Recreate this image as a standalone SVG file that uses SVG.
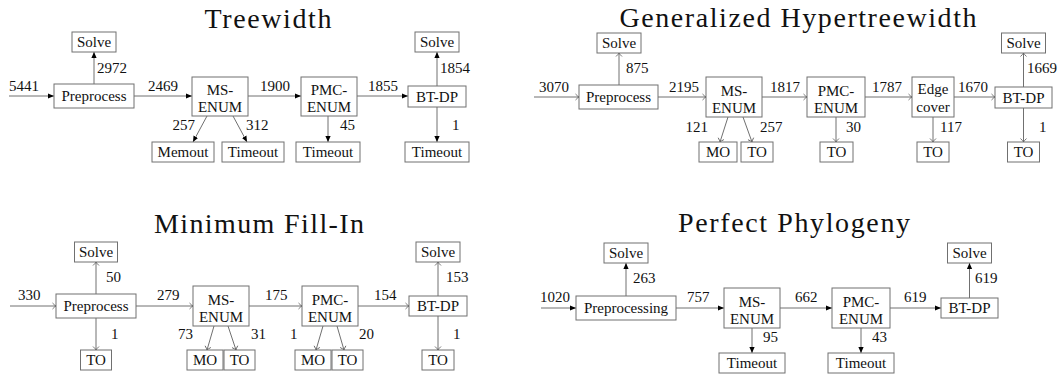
<svg xmlns="http://www.w3.org/2000/svg" width="1058" height="374" viewBox="0 0 1058 374" font-family="Liberation Serif, DejaVu Serif, serif">
<style>
.box{fill:#fff;stroke:#707070;stroke-width:1}
.t{font-size:15px;fill:#111;text-anchor:middle}
.n{font-size:15px;fill:#111;text-anchor:start}
.ne{text-anchor:end}
.title{font-size:28px;fill:#111;text-anchor:middle}
.c{stroke:#707070;stroke-width:1;fill:none}
.f{marker-end:url(#fill)}
.o{marker-end:url(#open)}
</style>
<defs>
<marker id="fill" viewBox="0 -3 6 6" refX="6" refY="0" markerWidth="6" markerHeight="6" markerUnits="userSpaceOnUse" orient="auto">
<path d="M0,-2.6 L6,0 L0,2.6 z" fill="#000"/>
</marker>
<marker id="open" viewBox="-5 -4 6 8" refX="0" refY="0" markerWidth="6" markerHeight="8" markerUnits="userSpaceOnUse" orient="auto">
<path d="M-3.5,-3 Q-1.2,-0.6 0,0 Q-1.2,0.6 -3.5,3" fill="none" stroke="#555" stroke-width="0.8"/>
</marker>
</defs>

<!-- ===== Treewidth ===== -->
<text class="title" x="268" y="28" textLength="127">Treewidth</text>
<g id="tw-connectors">
<line class="c f" x1="9" y1="96" x2="54" y2="96"/>
<line class="c f" x1="94" y1="84" x2="94" y2="52"/>
<line class="c f" x1="134" y1="96" x2="192" y2="96"/>
<line class="c f" x1="248" y1="96" x2="301" y2="96"/>
<line class="c f" x1="357" y1="96" x2="408" y2="96"/>
<line class="c f" x1="437" y1="86" x2="437" y2="52"/>
<line class="c f" x1="437" y1="107" x2="437" y2="142"/>
<line class="c f" x1="207" y1="116" x2="193" y2="142"/>
<line class="c f" x1="233" y1="116" x2="247" y2="142"/>
<line class="c f" x1="328" y1="116" x2="328" y2="142"/>
<text class="n" x="9" y="91">5441</text>
<text class="n" x="97" y="73">2972</text>
<text class="n" x="148" y="91">2469</text>
<text class="n" x="260" y="91">1900</text>
<text class="n" x="368" y="91">1855</text>
<text class="n" x="440" y="73">1854</text>
<text class="n" x="452" y="130">1</text>
<text class="n ne" x="195" y="130">257</text>
<text class="n" x="246" y="130">312</text>
<text class="n" x="340" y="130">45</text>
</g>
<g id="tw-solve1"><rect class="box" x="72" y="32" width="44" height="20"/><text class="t" x="94" y="47">Solve</text></g>
<g id="tw-pre"><rect class="box" x="54" y="84" width="80" height="24"/><text class="t" x="94" y="101">Preprocess</text></g>
<g id="tw-ms"><rect class="box" x="192" y="77" width="56" height="39"/><text class="t" x="220" y="95">MS-</text><text class="t" x="220" y="112">ENUM</text></g>
<g id="tw-pmc"><rect class="box" x="301" y="77" width="56" height="39"/><text class="t" x="329" y="95">PMC-</text><text class="t" x="329" y="112">ENUM</text></g>
<g id="tw-bt"><rect class="box" x="408" y="86" width="58" height="21"/><text class="t" x="437" y="101.5">BT-DP</text></g>
<g id="tw-solve2"><rect class="box" x="415" y="32" width="44" height="20"/><text class="t" x="437" y="47">Solve</text></g>
<g id="tw-memout"><rect class="box" x="152" y="142" width="62" height="20"/><text class="t" x="183" y="157">Memout</text></g>
<g id="tw-to1"><rect class="box" x="222" y="142" width="62" height="20"/><text class="t" x="253" y="157">Timeout</text></g>
<g id="tw-to2"><rect class="box" x="296" y="142" width="64" height="20"/><text class="t" x="328" y="157">Timeout</text></g>
<g id="tw-to3"><rect class="box" x="405" y="142" width="64" height="20"/><text class="t" x="437" y="157">Timeout</text></g>

<!-- ===== Generalized Hypertreewidth ===== -->
<text class="title" x="798" y="27" textLength="357">Generalized Hypertreewidth</text>
<g id="ghw-connectors">
<line class="c o" x1="534" y1="97" x2="579" y2="97"/>
<line class="c o" x1="619" y1="85" x2="619" y2="53"/>
<line class="c o" x1="658" y1="97" x2="706" y2="97"/>
<line class="c o" x1="762" y1="97" x2="807" y2="97"/>
<line class="c o" x1="865" y1="97" x2="912" y2="97"/>
<line class="c o" x1="954" y1="97" x2="995" y2="97"/>
<line class="c o" x1="1023.5" y1="87" x2="1023.5" y2="53"/>
<line class="c o" x1="1023.5" y1="108" x2="1023.5" y2="142"/>
<line class="c o" x1="728" y1="117" x2="720" y2="142"/>
<line class="c o" x1="743" y1="117" x2="752" y2="142"/>
<line class="c o" x1="836" y1="117" x2="836" y2="142"/>
<line class="c o" x1="933" y1="117" x2="933" y2="142"/>
<text class="n" x="539" y="92">3070</text>
<text class="n" x="626" y="73">875</text>
<text class="n" x="669" y="92">2195</text>
<text class="n" x="770" y="92">1817</text>
<text class="n" x="872" y="92">1787</text>
<text class="n" x="958" y="92">1670</text>
<text class="n" x="1027" y="73">1669</text>
<text class="n" x="1039" y="132">1</text>
<text class="n ne" x="708" y="132">121</text>
<text class="n" x="760" y="132">257</text>
<text class="n" x="846" y="132">30</text>
<text class="n" x="940" y="132">117</text>
</g>
<g id="ghw-solve1"><rect class="box" x="597" y="33" width="44" height="20"/><text class="t" x="619" y="48">Solve</text></g>
<g id="ghw-pre"><rect class="box" x="579" y="85" width="79" height="24"/><text class="t" x="618.5" y="102">Preprocess</text></g>
<g id="ghw-ms"><rect class="box" x="706" y="77" width="56" height="40"/><text class="t" x="734" y="95.5">MS-</text><text class="t" x="734" y="112.5">ENUM</text></g>
<g id="ghw-pmc"><rect class="box" x="807" y="77" width="58" height="40"/><text class="t" x="836" y="95.5">PMC-</text><text class="t" x="836" y="112.5">ENUM</text></g>
<g id="ghw-edge"><rect class="box" x="912" y="77" width="42" height="40"/><text class="t" x="933" y="94">Edge</text><text class="t" x="933" y="112">cover</text></g>
<g id="ghw-bt"><rect class="box" x="995" y="87" width="57" height="21"/><text class="t" x="1023.5" y="102.5">BT-DP</text></g>
<g id="ghw-solve2"><rect class="box" x="1001.5" y="33" width="44" height="20"/><text class="t" x="1023.5" y="48">Solve</text></g>
<g id="ghw-mo1"><rect class="box" x="699" y="142" width="38" height="20"/><text class="t" x="718" y="157">MO</text></g>
<g id="ghw-to1"><rect class="box" x="741" y="142" width="32" height="20"/><text class="t" x="757" y="157">TO</text></g>
<g id="ghw-to2"><rect class="box" x="820" y="142" width="33" height="20"/><text class="t" x="836.5" y="157">TO</text></g>
<g id="ghw-to3"><rect class="box" x="917" y="142" width="32" height="20"/><text class="t" x="933" y="157">TO</text></g>
<g id="ghw-to4"><rect class="box" x="1007.5" y="142" width="32" height="20"/><text class="t" x="1023.5" y="157">TO</text></g>

<!-- ===== Minimum Fill-In ===== -->
<text class="title" x="259" y="233" textLength="210">Minimum Fill-In</text>
<g id="mfi-connectors">
<line class="c o" x1="10" y1="306" x2="56" y2="306"/>
<line class="c o" x1="96" y1="294" x2="96" y2="262"/>
<line class="c o" x1="96" y1="318" x2="96" y2="350"/>
<line class="c o" x1="136" y1="306" x2="193" y2="306"/>
<line class="c o" x1="249" y1="306" x2="302" y2="306"/>
<line class="c o" x1="358" y1="306" x2="409" y2="306"/>
<line class="c o" x1="438" y1="296" x2="438" y2="262"/>
<line class="c o" x1="438" y1="316" x2="438" y2="350"/>
<line class="c o" x1="214" y1="326" x2="207" y2="350"/>
<line class="c o" x1="228" y1="326" x2="236" y2="350"/>
<line class="c o" x1="323" y1="326" x2="316" y2="350"/>
<line class="c o" x1="337" y1="326" x2="344" y2="350"/>
<text class="n" x="18" y="300">330</text>
<text class="n" x="106" y="282">50</text>
<text class="n" x="111" y="339">1</text>
<text class="n" x="157" y="300">279</text>
<text class="n" x="265" y="300">175</text>
<text class="n" x="374" y="300">154</text>
<text class="n" x="446" y="282">153</text>
<text class="n" x="453" y="339">1</text>
<text class="n ne" x="193" y="339">73</text>
<text class="n" x="251" y="339">31</text>
<text class="n" x="290" y="339">1</text>
<text class="n" x="359" y="339">20</text>
</g>
<g id="mfi-solve1"><rect class="box" x="74.5" y="242" width="43" height="20"/><text class="t" x="96" y="257">Solve</text></g>
<g id="mfi-pre"><rect class="box" x="56" y="294" width="80" height="24"/><text class="t" x="96" y="311">Preprocess</text></g>
<g id="mfi-to0"><rect class="box" x="80.5" y="350" width="31" height="20"/><text class="t" x="96" y="365">TO</text></g>
<g id="mfi-ms"><rect class="box" x="193" y="286" width="56" height="40"/><text class="t" x="221" y="304.5">MS-</text><text class="t" x="221" y="321.5">ENUM</text></g>
<g id="mfi-pmc"><rect class="box" x="302" y="286" width="56" height="40"/><text class="t" x="330" y="304.5">PMC-</text><text class="t" x="330" y="321.5">ENUM</text></g>
<g id="mfi-bt"><rect class="box" x="409" y="296" width="58" height="20"/><text class="t" x="438" y="311">BT-DP</text></g>
<g id="mfi-solve2"><rect class="box" x="416" y="242" width="44" height="20"/><text class="t" x="438" y="257">Solve</text></g>
<g id="mfi-to3"><rect class="box" x="422" y="350" width="32" height="20"/><text class="t" x="438" y="365">TO</text></g>
<g id="mfi-mo1"><rect class="box" x="187" y="350" width="36" height="20"/><text class="t" x="205" y="365">MO</text></g>
<g id="mfi-to1"><rect class="box" x="224" y="350" width="31" height="20"/><text class="t" x="239.5" y="365">TO</text></g>
<g id="mfi-mo2"><rect class="box" x="295" y="350" width="36" height="20"/><text class="t" x="313" y="365">MO</text></g>
<g id="mfi-to2"><rect class="box" x="332" y="350" width="31" height="20"/><text class="t" x="347.5" y="365">TO</text></g>

<!-- ===== Perfect Phylogeny ===== -->
<text class="title" x="794" y="232" textLength="232">Perfect Phylogeny</text>
<g id="pp-connectors">
<line class="c f" x1="541" y1="308" x2="576" y2="308"/>
<line class="c f" x1="626" y1="296" x2="626" y2="263"/>
<line class="c f" x1="676" y1="308" x2="724" y2="308"/>
<line class="c f" x1="780" y1="308" x2="832" y2="308"/>
<line class="c f" x1="890" y1="308" x2="941" y2="308"/>
<line class="c f" x1="969.5" y1="298" x2="969.5" y2="263"/>
<line class="c f" x1="752" y1="328" x2="752" y2="353"/>
<line class="c f" x1="861" y1="328" x2="861" y2="353"/>
<text class="n" x="540" y="302">1020</text>
<text class="n" x="633" y="283">263</text>
<text class="n" x="687" y="302">757</text>
<text class="n" x="795" y="302">662</text>
<text class="n" x="904" y="302">619</text>
<text class="n" x="975" y="283">619</text>
<text class="n" x="763" y="342">95</text>
<text class="n" x="872" y="342">43</text>
</g>
<g id="pp-solve1"><rect class="box" x="604" y="243" width="44" height="20"/><text class="t" x="626" y="258">Solve</text></g>
<g id="pp-pre"><rect class="box" x="576" y="296" width="100" height="24"/><text class="t" x="626" y="313">Preprocessing</text></g>
<g id="pp-ms"><rect class="box" x="724" y="288" width="56" height="40"/><text class="t" x="752" y="306.5">MS-</text><text class="t" x="752" y="323.5">ENUM</text></g>
<g id="pp-pmc"><rect class="box" x="832" y="288" width="58" height="40"/><text class="t" x="861" y="306.5">PMC-</text><text class="t" x="861" y="323.5">ENUM</text></g>
<g id="pp-bt"><rect class="box" x="941" y="298" width="57" height="20"/><text class="t" x="969.5" y="313">BT-DP</text></g>
<g id="pp-solve2"><rect class="box" x="947.5" y="243" width="44" height="20"/><text class="t" x="969.5" y="258">Solve</text></g>
<g id="pp-to1"><rect class="box" x="719" y="353" width="66" height="20"/><text class="t" x="752" y="368">Timeout</text></g>
<g id="pp-to2"><rect class="box" x="828" y="353" width="66" height="20"/><text class="t" x="861" y="368">Timeout</text></g>
</svg>
